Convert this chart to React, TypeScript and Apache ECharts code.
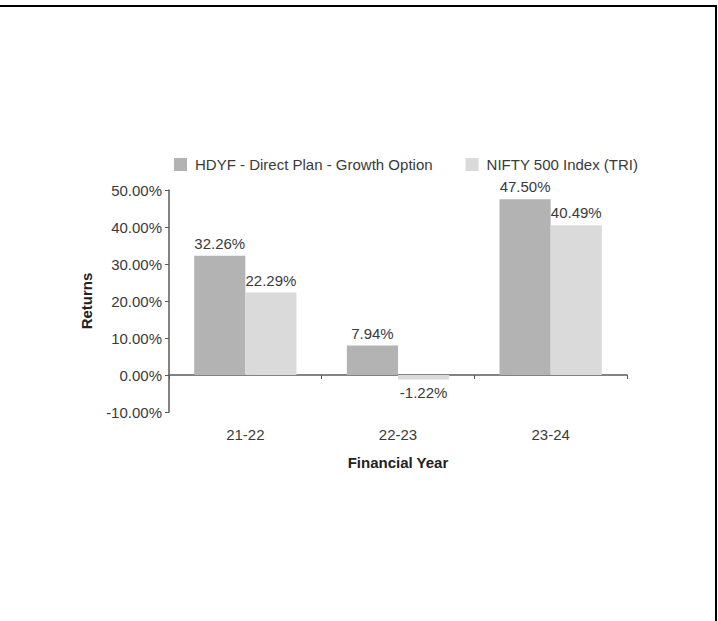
import React, { useEffect, useRef } from "react";
import * as echarts from "echarts";

const categories = ["21-22", "22-23", "23-24"];
const fundName = "HDYF - Direct Plan - Growth Option";
const indexName = "NIFTY 500 Index (TRI)";
const fundValues = [32.26, 7.94, 47.5];
const indexValues = [22.29, -1.22, 40.49];
const yMin = -10;
const yMax = 50;
const yStep = 10;

const FONT = "'Liberation Sans', Arial, sans-serif";
const TEXT = "#3a3a3a";
const AXIS = "#5a5a5a";

function toData(vals: number[]) {
  return vals.map((v) =>
    v < 0 ? { value: v, label: { position: "bottom" as const } } : { value: v }
  );
}

export default function App() {
  const ref = useRef<HTMLDivElement>(null);
  useEffect(() => {
    if (!ref.current) return;
    const chart = echarts.init(ref.current, null, { renderer: "svg" });
    const labelCfg = {
      show: true,
      position: "top" as const,
      distance: 5,
      color: TEXT,
      fontSize: 15,
      fontFamily: FONT,
      formatter: (p: any) => Number(p.value).toFixed(2) + "%",
    };
    chart.setOption({
      animation: false,
      backgroundColor: "#fff",
      textStyle: { fontFamily: FONT, color: TEXT },
      legend: {
        left: 169,
        top: 152,
        itemWidth: 13,
        itemHeight: 13,
        itemGap: 33,
        icon: "rect",
        textStyle: {
          color: TEXT,
          fontSize: 15,
          fontFamily: FONT,
          padding: [0, 0, 0, 3],
        },
        data: [fundName, indexName],
      },
      grid: { left: 169, right: 91, top: 190, bottom: 209, containLabel: false },
      xAxis: {
        type: "category",
        data: categories,
        name: "Financial Year",
        nameLocation: "middle",
        nameGap: 43,
        nameTextStyle: {
          fontWeight: "bold",
          fontSize: 15,
          color: "#222",
          fontFamily: FONT,
        },
        axisLine: { onZero: true, lineStyle: { color: AXIS, width: 1.5 } },
        axisTick: { show: true, length: 4, lineStyle: { color: AXIS } },
        axisLabel: { margin: 15, color: TEXT, fontSize: 15, fontFamily: FONT },
      },
      yAxis: {
        type: "value",
        min: yMin,
        max: yMax,
        interval: yStep,
        name: "Returns",
        nameLocation: "middle",
        nameGap: 75,
        nameTextStyle: {
          fontWeight: "bold",
          fontSize: 15,
          color: "#222",
          fontFamily: FONT,
        },
        splitLine: { show: false },
        axisLine: { show: true, lineStyle: { color: AXIS, width: 1.5 } },
        axisTick: { show: true, length: 4, lineStyle: { color: AXIS } },
        axisLabel: {
          margin: 7,
          color: TEXT,
          fontSize: 15,
          fontFamily: FONT,
          formatter: (v: number) => v.toFixed(2) + "%",
        },
      },
      series: [
        {
          name: fundName,
          type: "bar",
          data: toData(fundValues),
          itemStyle: { color: "#b3b3b3" },
          barGap: "0%",
          barCategoryGap: "33%",
          label: labelCfg,
        },
        {
          name: indexName,
          type: "bar",
          data: toData(indexValues),
          itemStyle: { color: "#dadada" },
          barGap: "0%",
          barCategoryGap: "33%",
          label: labelCfg,
        },
      ],
      graphic: [
        {
          type: "line",
          shape: { x1: 0, y1: 6, x2: 717, y2: 6 },
          style: { stroke: "#000", lineWidth: 2 },
          z: 100,
        },
        {
          type: "line",
          shape: { x1: 716, y1: 5, x2: 716, y2: 621 },
          style: { stroke: "#000", lineWidth: 2 },
          z: 100,
        },
      ],
    });
    return () => chart.dispose();
  }, []);
  return (
    <div
      ref={ref}
      style={{ position: "fixed", left: 0, top: 0, width: 718, height: 621 }}
    />
  );
}
